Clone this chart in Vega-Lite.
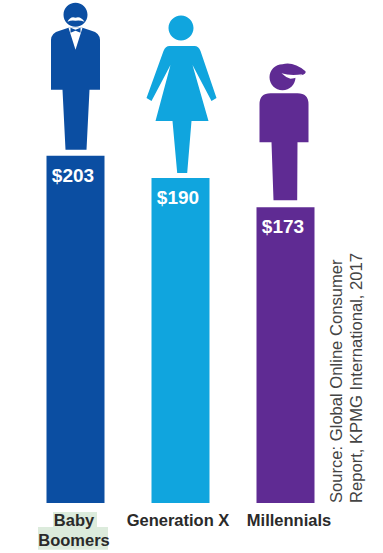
{
"$schema":"https://vega.github.io/schema/vega-lite/v6.json",
"width":383,"height":553,"padding":0,"autosize":{"type":"none"},
"background":"#ffffff",
"config":{"view":{"stroke":null},"axis":{"grid":false}},
"datasets":{
 "main":[
  {"generation":"Baby Boomers","value":203},
  {"generation":"Generation X","value":190},
  {"generation":"Millennials","value":173}],
 "highlight":[{"generation":"Baby Boomers","top":-5.2,"mid":-14,"bottom":-27.4}],
 "note":[{"generation":"Millennials","base":0,"lines":["Source: Global Online Consumer","Report, KPMG International, 2017"]}]
},
"encoding":{
 "x":{"field":"generation","type":"nominal","sort":null,"axis":null,"scale":{"type":"band","domain":["Baby Boomers","Generation X","Millennials"],"range":[23,338],"paddingInner":0,"paddingOuter":0}}
},
"layer":[
 {"data":{"name":"main"},"mark":{"type":"bar","size":58},
  "encoding":{
   "y":{"field":"value","type":"quantitative","axis":null,"scale":{"domain":[0,294.15],"range":[503,0],"nice":false,"zero":false}},
   "color":{"field":"generation","type":"nominal","legend":null,"scale":{"domain":["Baby Boomers","Generation X","Millennials"],"range":["#0b4ea2","#10a5de","#5f2b93"]}}}},
 {"data":{"name":"main"},"mark":{"type":"text","font":"Liberation Sans","fontWeight":"bold","fontSize":19,"color":"#ffffff","dy":20,"dx":-2.5,"baseline":"middle"},
  "encoding":{"y":{"field":"value","type":"quantitative"},"text":{"field":"value","type":"quantitative","format":"$.0f"}}},
 {"data":{"name":"main"},"transform":[{"filter":"datum.generation==='Baby Boomers'"}],
  "mark":{"type":"point","filled":true,"opacity":1,"size":4,"strokeWidth":0,"yOffset":-1,"color":"#0b4ea2","shape":"M-12,-140A12,12 0 1,1 12,-140A12,12 0 1,1 -12,-140ZM-24.5,-65L-24.5,-115Q-24,-122 -16,-124L-7,-127L7,-127L16,-124Q24,-122 24.5,-115L24.5,-65L14,-65L11,-5L-10,-5L-13,-65Z"},
  "encoding":{"y":{"field":"value","type":"quantitative"}}},
 {"data":{"name":"main"},"transform":[{"filter":"datum.generation==='Baby Boomers'"}],
  "mark":{"type":"point","filled":true,"opacity":1,"size":4,"strokeWidth":0,"yOffset":-1,"color":"#ffffff","shape":"M-8,-133Q-5,-139 0,-137Q5,-139 9,-133Q4,-135 0,-134Q-4,-135 -8,-133ZM-7,-127L7,-127L0,-105Z"},
  "encoding":{"y":{"field":"value","type":"quantitative"}}},
 {"data":{"name":"main"},"transform":[{"filter":"datum.generation==='Baby Boomers'"}],
  "mark":{"type":"point","filled":true,"opacity":1,"size":4,"strokeWidth":0,"yOffset":-1,"color":"#0b4ea2","shape":"M-5,-127L0,-125L5,-127L5,-122L0,-124L-5,-122Z"},
  "encoding":{"y":{"field":"value","type":"quantitative"}}},
 {"data":{"name":"main"},"transform":[{"filter":"datum.generation==='Generation X'"}],
  "mark":{"type":"point","filled":true,"opacity":1,"size":4,"strokeWidth":0,"yOffset":1,"color":"#10a5de","shape":"M-12,-151A12.5,12.5 0 1,1 13,-151A12.5,12.5 0 1,1 -12,-151ZM-11,-133L14,-133Q18,-133 20,-128L36,-81L31,-78L12,-114L28,-58L11,-58L6.7,-6L-3.3,-6L-8,-58L-25,-58L-10,-114L-29,-78L-34,-81L-17,-128Q-15,-133 -11,-133Z"},
  "encoding":{"y":{"field":"value","type":"quantitative"}}},
 {"data":{"name":"main"},"transform":[{"filter":"datum.generation==='Millennials'"}],
  "mark":{"type":"point","filled":true,"opacity":1,"size":4,"strokeWidth":0,"color":"#5f2b93","shape":"M-16,-130A13,13 0 1,1 10,-130A13,13 0 1,1 -16,-130ZM-3,-143Q8,-146 20,-136Q21,-133 15,-132L5,-128ZM-26,-65L-26,-103Q-26,-114 -15,-114L12,-114Q23,-114 23,-103L23,-65L12,-65L11.7,-7L-12,-7L-14,-65Z"},
  "encoding":{"y":{"field":"value","type":"quantitative"}}},
 {"data":{"name":"main"},"transform":[{"filter":"datum.generation==='Millennials'"}],
  "mark":{"type":"point","filled":true,"opacity":1,"size":4,"strokeWidth":0,"color":"#ffffff","shape":"M-4,-134Q5,-131 17,-133Q12,-129 5,-128.5Q0,-130 -4,-134Z"},
  "encoding":{"y":{"field":"value","type":"quantitative"}}},
 {"data":{"name":"highlight"},"mark":{"type":"bar","size":44,"color":"#dcebdc","xOffset":-0.5},
  "encoding":{"y":{"field":"top","type":"quantitative"},"y2":{"field":"mid"}}},
 {"data":{"name":"highlight"},"mark":{"type":"bar","size":70,"color":"#dcebdc","xOffset":-2.5},
  "encoding":{"y":{"field":"mid","type":"quantitative"},"y2":{"field":"bottom"}}},
 {"data":{"name":"main"},"transform":[{"filter":"datum.generation==='Baby Boomers'"}],
  "mark":{"type":"text","font":"Liberation Sans","fontWeight":"bold","fontSize":16.5,"color":"#2a2a2a","baseline":"top","dy":10,"dx":-1.5,"lineHeight":20,"text":["Baby","Boomers"]},
  "encoding":{"y":{"datum":0,"type":"quantitative"}}},
 {"data":{"name":"main"},"transform":[{"filter":"datum.generation==='Generation X'"}],
  "mark":{"type":"text","font":"Liberation Sans","fontWeight":"bold","fontSize":16.5,"color":"#2a2a2a","baseline":"top","dy":10,"dx":-2.5},
  "encoding":{"y":{"datum":0,"type":"quantitative"},"text":{"field":"generation"}}},
 {"data":{"name":"main"},"transform":[{"filter":"datum.generation==='Millennials'"}],
  "mark":{"type":"text","font":"Liberation Sans","fontWeight":"bold","fontSize":16.5,"color":"#2a2a2a","baseline":"top","dy":10,"dx":3.5},
  "encoding":{"y":{"datum":0,"type":"quantitative"},"text":{"field":"generation"}}},
 {"data":{"name":"note"},"mark":{"type":"text","font":"Liberation Sans","fontSize":16.6,"color":"#444444","angle":270,"align":"left","baseline":"middle","dy":51.5,"dx":0,"lineHeight":20},
  "encoding":{"y":{"field":"base","type":"quantitative"},"text":{"field":"lines"}}}
]
}
